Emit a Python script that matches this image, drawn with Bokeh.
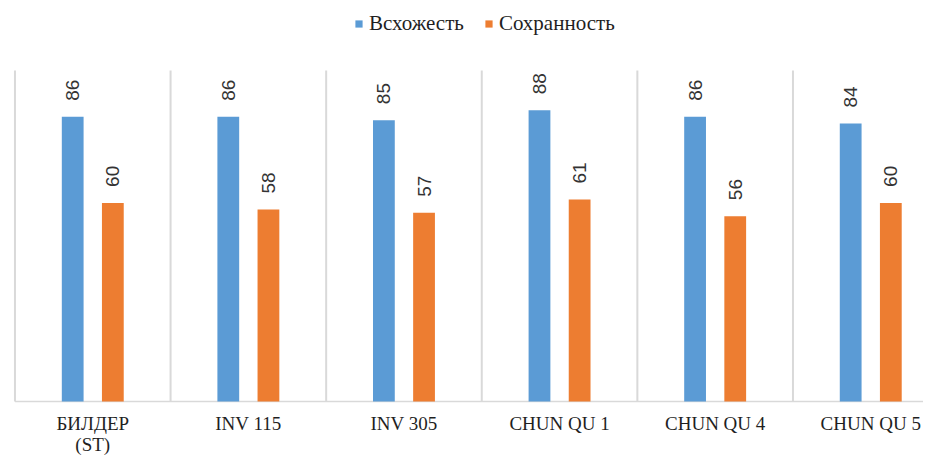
import numpy as np
from bokeh.plotting import figure
from bokeh.models import ColumnDataSource, Legend, LegendItem
from bokeh.core.properties import value
from bokeh.embed import file_html
from bokeh.resources import INLINE

categories = ["БИЛДЕР (ST)", "INV 115", "INV 305", "CHUN QU 1", "CHUN QU 4", "CHUN QU 5"]
germination = [86, 86, 85, 88, 86, 84]   # Всхожесть
survival = [60, 58, 57, 61, 56, 60]      # Сохранность
series_names = ["Всхожесть", "Сохранность"]
colors = ["#5B9BD5", "#ED7D31"]

n = len(categories)
centers = np.arange(n) + 0.5
dodge = 0.129
bar_w = 0.14

p = figure(width=923, height=455, output_backend="svg", toolbar_location=None,
           x_range=(-0.093, 5.839), y_range=(-16.31, 121.15),
           x_axis_type=None, y_axis_type=None,
           min_border_left=0, min_border_right=0, min_border_top=0, min_border_bottom=0)
p.grid.visible = False
p.outline_line_color = None
p.background_fill_color = "white"

# separators and baseline
bounds = np.arange(n + 1)
p.segment(x0=bounds, y0=0, x1=bounds, y1=100, line_color="#d9d9d9", line_width=2)
p.segment(x0=[0], y0=[0], x1=[n], y1=[0], line_color="#d9d9d9", line_width=1.5)

src1 = ColumnDataSource(dict(x=centers - dodge, top=germination, lab=[str(v) for v in germination]))
src2 = ColumnDataSource(dict(x=centers + dodge, top=survival, lab=[str(v) for v in survival]))
r1 = p.vbar(x="x", top="top", width=bar_w, bottom=0, source=src1, fill_color=colors[0], line_color=None)
r2 = p.vbar(x="x", top="top", width=bar_w, bottom=0, source=src2, fill_color=colors[1], line_color=None)

for src in (src1, src2):
    p.text(x="x", y="top", text="lab", source=src, angle=np.pi / 2,
           text_align="left", text_baseline="middle", y_offset=-16,
           text_font=value("Liberation Sans"), text_font_size="19px", text_color="#333333")

# category labels
cat_labels = [c.replace(" (", "\n(") for c in categories]
p.text(x=centers, y=[0] * n, text=cat_labels, text_align="center", text_baseline="top",
       y_offset=11, text_font=value("Liberation Serif"), text_font_size="19px",
       text_color="#1f1f1f", text_line_height=1.0)

legend = Legend(items=[LegendItem(label=series_names[0], renderers=[r1]),
                       LegendItem(label=series_names[1], renderers=[r2])],
                location=(354, 419), orientation="horizontal")
legend.label_text_font = "Liberation Serif"
legend.label_text_font_size = "21px"
legend.label_text_color = "#1f1f1f"
legend.glyph_width = 9
legend.glyph_height = 9
legend.label_standoff = 6
legend.spacing = 20
legend.padding = 0
legend.margin = 0
legend.border_line_color = None
legend.background_fill_alpha = 0
p.add_layout(legend)

open("out.html", "w").write(file_html(p, INLINE))
